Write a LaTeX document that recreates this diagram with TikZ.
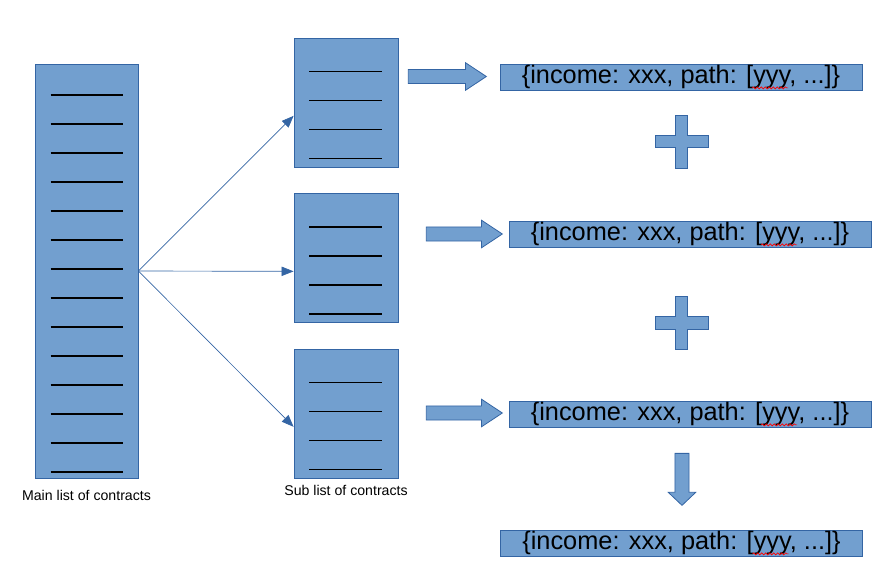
\documentclass[tikz,border=0pt]{standalone}
\usepackage{fontspec}
\setmainfont{Liberation Sans}
\usetikzlibrary{positioning,arrows.meta,shapes.arrows,calc,decorations.pathmorphing}
\definecolor{boxfill}{HTML}{729FCF}
\definecolor{boxline}{HTML}{3465A4}

\tikzset{
  listbox/.style  = {draw=boxline, fill=boxfill, line width=0.6pt, inner sep=0pt},
  jsonbox/.style  = {listbox, minimum width=271.5pt, minimum height=19.5pt,
                     font=\fontsize{19}{20}\selectfont},
  listline/.style = {black, line width=1.3pt},
  fan/.style      = {boxline, line width=0.5pt, -{Triangle[length=9pt,width=7pt]}},
  bigarrow/.style = {single arrow, draw=boxline, fill=boxfill, line width=0.6pt,
                     inner xsep=0pt, inner ysep=5pt, single arrow head extend=5pt},
  plusshape/.style= {draw=boxline, fill=boxfill, line width=0.6pt},
  squiggle/.style = {red, line width=0.5pt, decorate,
                     decoration={snake, amplitude=0.8pt, segment length=3pt}},
  caption/.style  = {inner sep=0pt, font=\fontsize{10.6}{12}\selectfont}
}

\begin{document}
\begin{tikzpicture}[x=0.75pt, y=-0.75pt]
 \useasboundingbox (0,0) rectangle (884,572);

 % lists of contracts
 \node[listbox, minimum width=77.25pt, minimum height=310.5pt, name=main] at (86.5,271)   {};
 \node[listbox, minimum width=78pt,    minimum height=96.75pt, name=sub1] at (346,102.5)  {};
 \node[listbox, minimum width=78pt,    minimum height=96.75pt, name=sub2] at (346,258)    {};
 \node[listbox, minimum width=78pt,    minimum height=96.75pt, name=sub3] at (346,413.5)  {};

 \foreach \i in {0,...,13}
   \draw[listline] ($(main.north)+(-36,31.7+29*\i)$) -- ++(72,0);
 \foreach \s in {sub1,sub2,sub3}
   \foreach \i in {0,...,3}
     \draw[listline] ($(\s.north)+(-37,34+29*\i)$) -- ++(73,0);

 \node[caption, below=9pt of main] (mainlbl) {Main list of contracts};
 \node[caption, below=5pt of sub3] (sublbl)  {Sub list of contracts};

 % split the main list
 \draw[fan] (main.east) -- ([yshift=-10pt]sub1.west);
 \draw[fan] (main.east) -- ([yshift=-10pt]sub2.west);
 \draw[fan] (main.east) -- ([yshift=-10pt]sub3.west);

 % results
 \node[jsonbox, name=res1] at (681,77)    {\{income: xxx, path: [yyy, ...]\}};
 \node[jsonbox, name=res2] at (690,234)   {\{income: xxx, path: [yyy, ...]\}};
 \node[jsonbox, name=res3] at (690,414)   {\{income: xxx, path: [yyy, ...]\}};
 \node[jsonbox, name=total] at (681.5,543) {\{income: xxx, path: [yyy, ...]\}};
 \foreach \r in {res1,res2,res3,total}
   \draw[squiggle] ($(\r.south)+(71,-2.5)$) -- ++(36,0);

 \node[bigarrow, minimum height=58.5pt, single arrow tip angle=67, name=go1] at (442,76.5) {};
 \node[bigarrow, minimum height=57pt,   single arrow tip angle=67, name=go2] at (459,234)  {};
 \node[bigarrow, minimum height=57pt,   single arrow tip angle=67, name=go3] at (459,413)  {};
 \node[bigarrow, inner xsep=5pt, inner ysep=0pt, minimum height=39pt, single arrow tip angle=93,
       shape border rotate=270, name=sum] at (682,476) {};

 % plus signs
 \coordinate (plus1) at (681.5,141.5);
 \coordinate (plus2) at (681.5,323);
 \foreach \p in {plus1,plus2}
   \draw[plusshape] (\p) ++(-6.25,-26.5) -- ++(12.5,0) -- ++(0,20.25) -- ++(20.25,0)
     -- ++(0,12.5) -- ++(-20.25,0) -- ++(0,20.25) -- ++(-12.5,0) -- ++(0,-20.25)
     -- ++(-20.25,0) -- ++(0,-12.5) -- ++(20.25,0) -- cycle;
\end{tikzpicture}
\end{document}
